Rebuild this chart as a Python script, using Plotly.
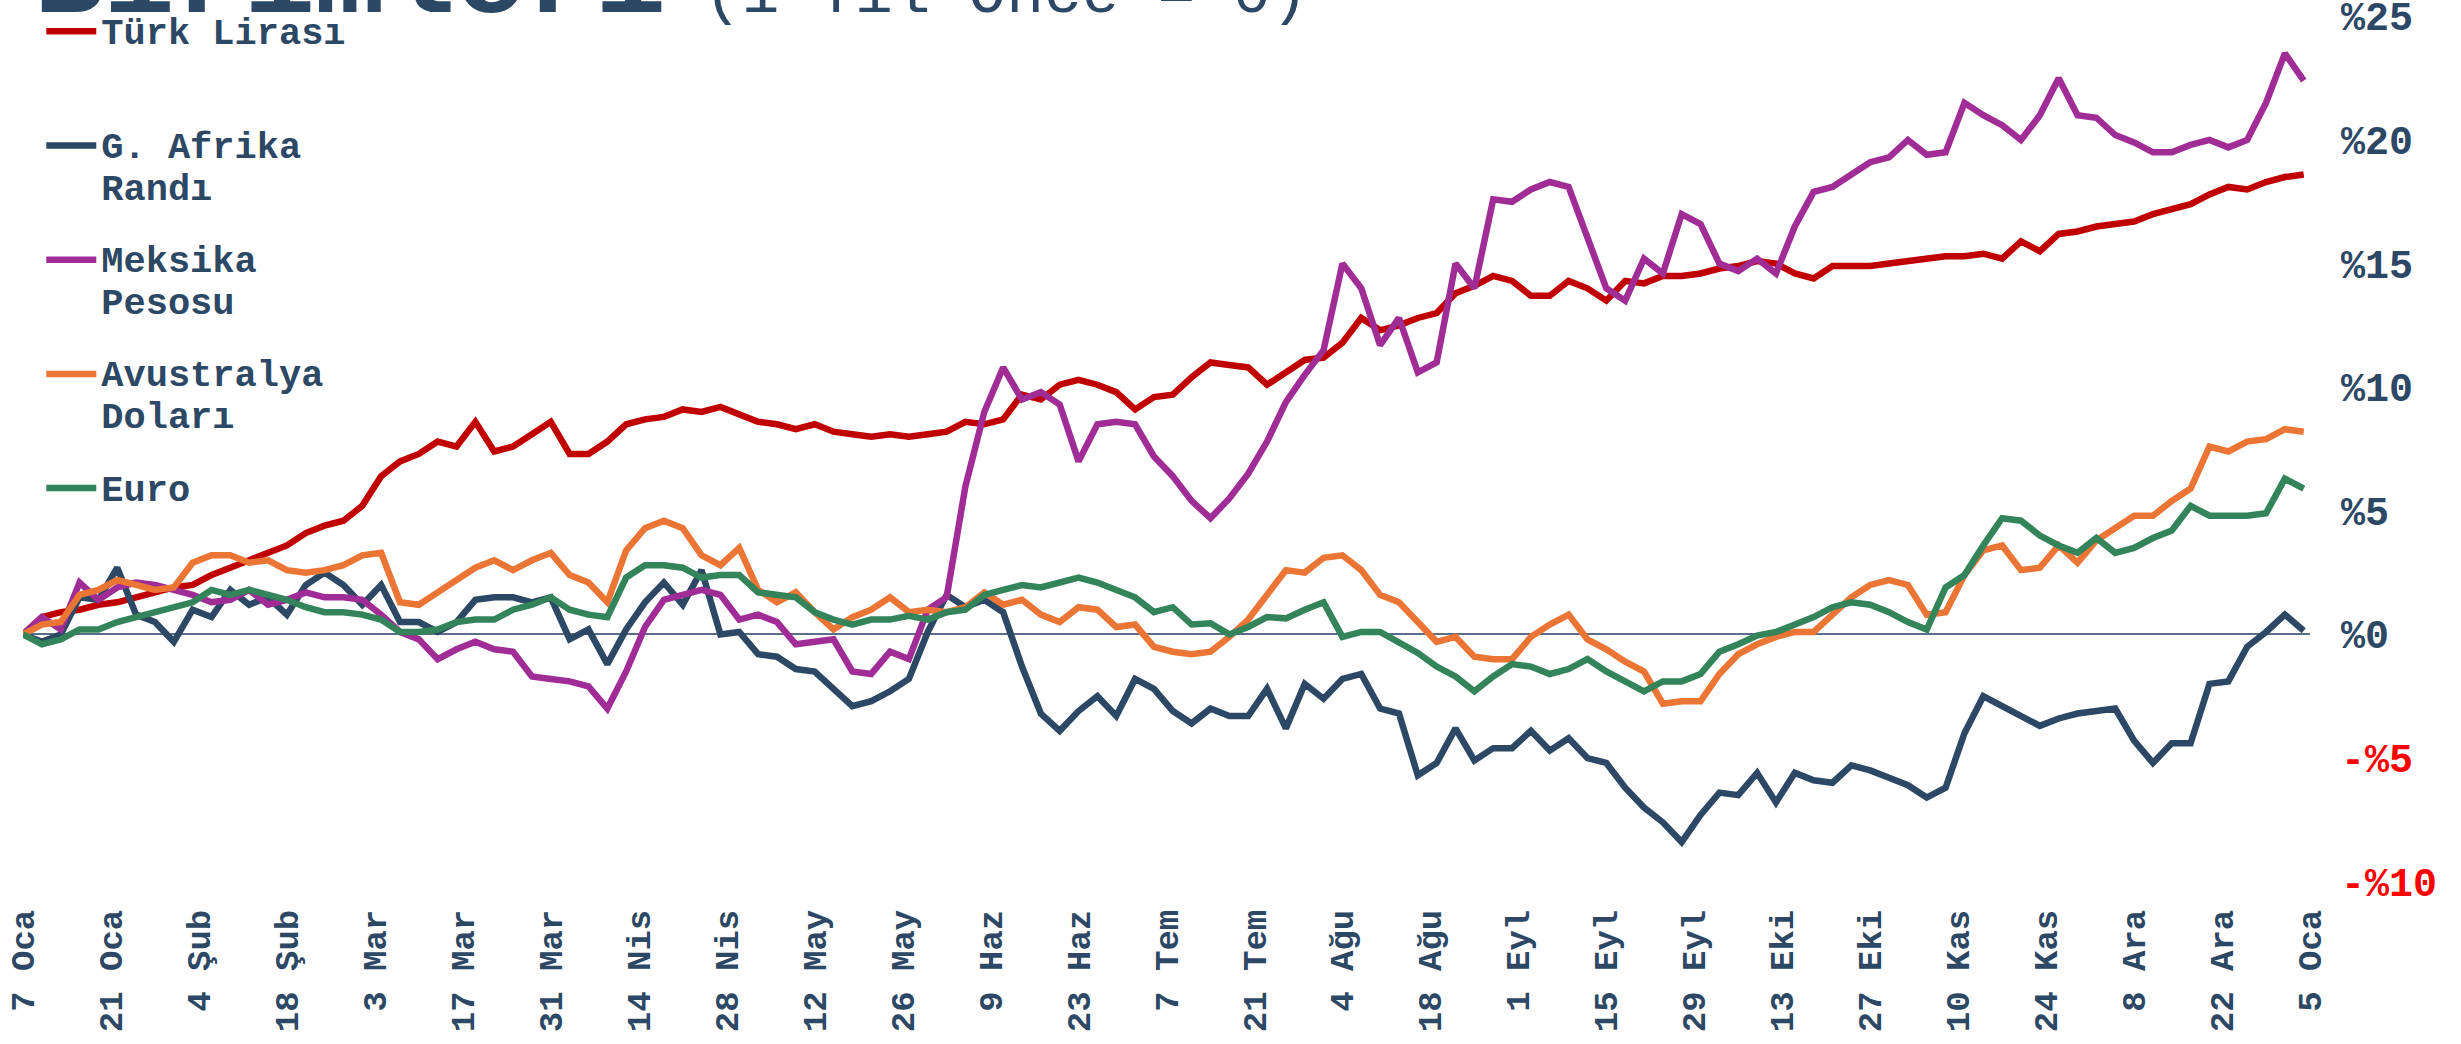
import pandas as pd
import plotly.graph_objects as go

# Sampling dates (every third day, 7 Jan 2024 -> 4 Jan 2025)
dates = pd.date_range("2024-01-07", periods=122, freq="3D")

# Cumulative change against the US dollar, in percent
try_vals = [
    0, 0.7, 0.9, 1.0, 1.2, 1.3, 1.5, 1.7, 1.9, 2.0,
    2.4, 2.7, 3.0, 3.3, 3.6, 4.1, 4.4, 4.6, 5.2, 6.4,
    7.0, 7.3, 7.8, 7.6, 8.6, 7.4, 7.6, 8.1, 8.6, 7.3,
    7.3, 7.8, 8.5, 8.7, 8.8, 9.1, 9.0, 9.2, 8.9, 8.6,
    8.5, 8.3, 8.5, 8.2, 8.1, 8.0, 8.1, 8.0, 8.1, 8.2,
    8.6, 8.5, 8.7, 9.7, 9.5, 10.1, 10.3, 10.1, 9.8, 9.1,
    9.6, 9.7, 10.4, 11.0, 10.9, 10.8, 10.1, 10.6, 11.1, 11.2,
    11.8, 12.8, 12.3, 12.5, 12.8, 13.0, 13.8, 14.1, 14.5, 14.3,
    13.7, 13.7, 14.3, 14.0, 13.5, 14.3, 14.2, 14.5, 14.5, 14.6,
    14.8, 14.9, 15.1, 15.0, 14.6, 14.4, 14.9, 14.9, 14.9, 15.0,
    15.1, 15.2, 15.3, 15.3, 15.4, 15.2, 15.9, 15.5, 16.2, 16.3,
    16.5, 16.6, 16.7, 17.0, 17.2, 17.4, 17.8, 18.1, 18.0, 18.3, 18.5, 18.6,
]
zar_vals = [
    0, -0.3, 0.0, 1.5, 1.4, 2.7, 0.8, 0.5, -0.3, 1.0,
    0.7, 1.8, 1.2, 1.5, 0.8, 2.0, 2.5, 2.0, 1.2, 2.0,
    0.5, 0.5, 0.1, 0.5, 1.4, 1.5, 1.5, 1.3, 1.5, -0.2,
    0.2, -1.2, 0.2, 1.3, 2.1, 1.2, 2.6, 0.0, 0.1, -0.8,
    -0.9, -1.4, -1.5, -2.2, -2.9, -2.7, -2.3, -1.8, 0.1, 1.6,
    1.1, 1.4, 0.9, -1.3, -3.2, -3.9, -3.1, -2.5, -3.3, -1.8,
    -2.2, -3.1, -3.6, -3.0, -3.3, -3.3, -2.2, -3.8, -2.0, -2.6,
    -1.8, -1.6, -3.0, -3.2, -5.7, -5.2, -3.8, -5.1, -4.6, -4.6,
    -3.9, -4.7, -4.2, -5.0, -5.2, -6.2, -7.0, -7.6, -8.4, -7.3,
    -6.4, -6.5, -5.6, -6.8, -5.6, -5.9, -6.0, -5.3, -5.5, -5.8,
    -6.1, -6.6, -6.2, -4.0, -2.5, -2.9, -3.3, -3.7, -3.4, -3.2,
    -3.1, -3.0, -4.3, -5.2, -4.4, -4.4, -2.0, -1.9, -0.5, 0.1, 0.8, 0.15,
]
mxn_vals = [
    0, 0.7, 0.2, 2.1, 1.4, 1.9, 2.1, 2.0, 1.8, 1.6,
    1.3, 1.4, 1.8, 1.2, 1.4, 1.7, 1.5, 1.5, 1.4, 0.8,
    0.1, -0.2, -1.0, -0.6, -0.3, -0.6, -0.7, -1.7, -1.8, -1.9,
    -2.1, -3.0, -1.5, 0.3, 1.4, 1.6, 1.8, 1.6, 0.6, 0.8,
    0.5, -0.4, -0.3, -0.2, -1.5, -1.6, -0.7, -1.0, 1.0, 1.5,
    6.0, 9.0, 10.8, 9.5, 9.8, 9.3, 7.0, 8.5, 8.6, 8.5,
    7.2, 6.4, 5.4, 4.7, 5.5, 6.5, 7.8, 9.4, 10.5, 11.5,
    15.0, 14.0, 11.7, 12.8, 10.6, 11.0, 15.0, 14.0, 17.6, 17.5,
    18.0, 18.3, 18.1, 16.0, 14.0, 13.5, 15.2, 14.6, 17.0, 16.6,
    15.0, 14.7, 15.2, 14.6, 16.5, 17.9, 18.1, 18.6, 19.1, 19.3,
    20.0, 19.4, 19.5, 21.5, 21.0, 20.6, 20.0, 21.0, 22.5, 21.0,
    20.9, 20.2, 19.9, 19.5, 19.5, 19.8, 20.0, 19.7, 20.0, 21.5, 23.5, 22.4,
]
aud_vals = [
    0, 0.4, 0.5, 1.6, 1.8, 2.2, 2.0, 1.8, 1.9, 2.9,
    3.2, 3.2, 2.9, 3.0, 2.6, 2.5, 2.6, 2.8, 3.2, 3.3,
    1.3, 1.2, 1.7, 2.2, 2.7, 3.0, 2.6, 3.0, 3.3, 2.4,
    2.1, 1.3, 3.4, 4.3, 4.6, 4.3, 3.2, 2.8, 3.5, 1.8,
    1.3, 1.7, 0.9, 0.2, 0.7, 1.0, 1.5, 0.9, 1.0, 0.9,
    1.1, 1.7, 1.2, 1.4, 0.8, 0.5, 1.1, 1.0, 0.3, 0.4,
    -0.5, -0.7, -0.8, -0.7, -0.1, 0.6, 1.6, 2.6, 2.5, 3.1,
    3.2, 2.6, 1.6, 1.3, 0.5, -0.3, -0.1, -0.9, -1.0, -1.0,
    -0.1, 0.4, 0.8, -0.2, -0.6, -1.1, -1.5, -2.8, -2.7, -2.7,
    -1.6, -0.8, -0.4, -0.1, 0.1, 0.1, 0.8, 1.5, 2.0, 2.2,
    2.0, 0.8, 0.9, 2.4, 3.4, 3.6, 2.6, 2.7, 3.6, 2.9,
    3.8, 4.3, 4.8, 4.8, 5.4, 5.9, 7.6, 7.4, 7.8, 7.9, 8.3, 8.2,
]
eur_vals = [
    0, -0.4, -0.2, 0.2, 0.2, 0.5, 0.7, 0.9, 1.1, 1.3,
    1.8, 1.6, 1.8, 1.6, 1.4, 1.1, 0.9, 0.9, 0.8, 0.6,
    0.1, 0.1, 0.2, 0.5, 0.6, 0.6, 1.0, 1.2, 1.5, 1.0,
    0.8, 0.7, 2.3, 2.8, 2.8, 2.7, 2.3, 2.4, 2.4, 1.7,
    1.6, 1.5, 0.9, 0.6, 0.4, 0.6, 0.6, 0.75, 0.6, 0.9,
    1.0, 1.6, 1.8, 2.0, 1.9, 2.1, 2.3, 2.1, 1.8, 1.5,
    0.9, 1.1, 0.4, 0.45, 0.0, 0.3, 0.7, 0.65, 1.0, 1.3,
    -0.1, 0.1, 0.1, -0.3, -0.75, -1.3, -1.7, -2.3, -1.7, -1.2,
    -1.3, -1.6, -1.4, -1.0, -1.5, -1.9, -2.3, -1.9, -1.9, -1.6,
    -0.7, -0.4, -0.05, 0.1, 0.4, 0.7, 1.1, 1.3, 1.2, 0.9,
    0.5, 0.2, 1.9, 2.4, 3.6, 4.7, 4.6, 4.0, 3.6, 3.3,
    3.9, 3.3, 3.5, 3.9, 4.2, 5.2, 4.8, 4.8, 4.8, 4.9, 6.3, 5.9,
]

series_names = [
    ["Türk Lirası", " "],
    ["G. Afrika", "Randı"],
    ["Meksika", "Pesosu"],
    ["Avustralya", "Doları"],
    ["Euro"],
]
series_values = [try_vals, zar_vals, mxn_vals, aud_vals, eur_vals]
series_colors = ["#C00000", "#2C4864", "#A02D96", "#EB7535", "#33845A"]

tick_dates = [
    "2024-01-07", "2024-01-21", "2024-02-04", "2024-02-18", "2024-03-03",
    "2024-03-17", "2024-03-31", "2024-04-14", "2024-04-28", "2024-05-12",
    "2024-05-26", "2024-06-09", "2024-06-23", "2024-07-07", "2024-07-21",
    "2024-08-04", "2024-08-18", "2024-09-01", "2024-09-15", "2024-09-29",
    "2024-10-13", "2024-10-27", "2024-11-10", "2024-11-24", "2024-12-08",
    "2024-12-22", "2025-01-05",
]
tick_labels = [
    "7 Oca", "21 Oca", "4 Şub", "18 Şub", "3 Mar", "17 Mar", "31 Mar",
    "14 Nis", "28 Nis", "12 May", "26 May", "9 Haz", "23 Haz", "7 Tem",
    "21 Tem", "4 Ağu", "18 Ağu", "1 Eyl", "15 Eyl", "29 Eyl", "13 Eki",
    "27 Eki", "10 Kas", "24 Kas", "8 Ara", "22 Ara", "5 Oca",
]
y_ticks = [-10, -5, 0, 5, 10, 15, 20, 25]

NAVY = "#2C4864"
NEG = "#FF0000"
MONO = "Courier New, Liberation Mono, monospace"


def legend_label(lines):
    return "<br>".join(f"<span style='font-size:37px'>{ln}</span>" for ln in lines)


def pct_label(v):
    if v < 0:
        return f"<span style='color:{NEG}'>-%{abs(v)}</span>"
    return f"%{v}"


fig = go.Figure()
for k, (name, vals, col) in enumerate(zip(series_names, series_values, series_colors)):
    fig.add_trace(go.Scatter(
        x=dates, y=vals, mode="lines", name=legend_label(name),
        legendgroup=f"g{k}",
        line=dict(color=col, width=6.5),
    ))

fig.update_layout(
    template="none",
    width=2461, height=1044,
    margin=dict(l=23, r=151, t=4, b=150),
    paper_bgcolor="white", plot_bgcolor="white",
    showlegend=True,
    title=dict(
        text="<b>Birimleri</b><span style='font-size:63px'> (1 Yıl Önce = 0)</span>",
        font=dict(family=MONO, size=117, color=NAVY),
        x=34 / 2461, xref="container", xanchor="left",
        y=1 - 12 / 1044, yref="container", yanchor="bottom",
    ),
    legend=dict(
        x=0.008, y=1, xanchor="left", yanchor="top",
        bgcolor="rgba(0,0,0,0)", borderwidth=0,
        font=dict(family=MONO, size=32, color=NAVY, weight="bold"),
        valign="top", itemwidth=50, tracegroupgap=28,
    ),
    xaxis=dict(
        range=["2024-01-07", "2025-01-05"],
        tickvals=tick_dates, ticktext=tick_labels,
        tickangle=-90, ticks="", showgrid=False, showline=False, zeroline=False,
        tickfont=dict(family=MONO, size=34, color=NAVY, weight="bold"),
        ticklabelstandoff=8, automargin=False,
    ),
    yaxis=dict(
        side="right", range=[-10.5, 25.5],
        tickvals=y_ticks, ticktext=[pct_label(v) for v in y_ticks],
        ticks="", showgrid=False, showline=False,
        zeroline=True, zerolinecolor="#5A6E87", zerolinewidth=1.5,
        tickfont=dict(family=MONO, size=40, color=NAVY, weight="bold"),
        ticklabelstandoff=30, ticklabeloverflow="allow", automargin=False,
    ),
)

fig.write_html("out.html")
